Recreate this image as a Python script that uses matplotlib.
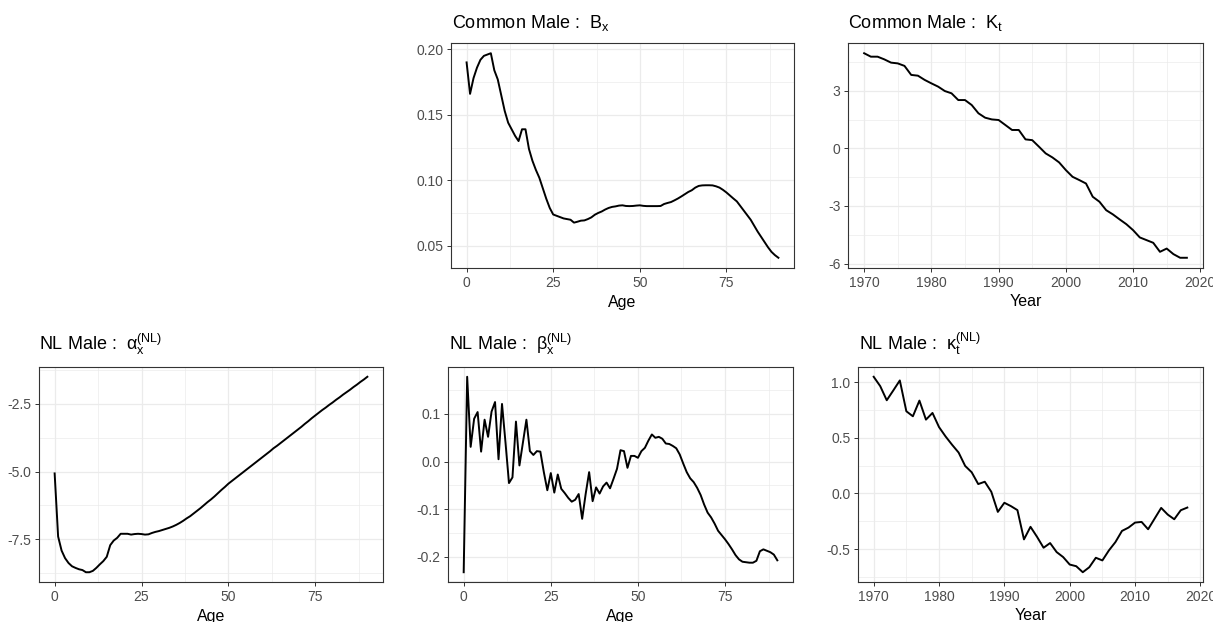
import matplotlib
matplotlib.use('Agg')
import matplotlib.pyplot as plt
from matplotlib.ticker import FixedLocator, FixedFormatter

plt.rcParams['font.family'] = ['Liberation Sans', 'DejaVu Sans']
plt.rcParams['mathtext.fontset'] = 'custom'
plt.rcParams['mathtext.rm'] = 'Liberation Sans'
plt.rcParams['mathtext.it'] = 'Liberation Sans:italic'
plt.rcParams['mathtext.bf'] = 'Liberation Sans:bold'
plt.rcParams['axes.unicode_minus'] = False

# ---------------- data ----------------
ages = list(range(0, 91))
years = list(range(1970, 2019))

bx = [0.190, 0.166, 0.178, 0.186, 0.192, 0.195, 0.196, 0.197, 0.184, 0.177,
      0.165, 0.153, 0.144, 0.139, 0.134, 0.130, 0.139, 0.139, 0.124, 0.115,
      0.108, 0.102, 0.094, 0.086, 0.079, 0.074, 0.073, 0.072, 0.071, 0.0705,
      0.0700, 0.0678, 0.0685, 0.0693, 0.0695, 0.0705, 0.0718, 0.0738, 0.0752, 0.0763,
      0.0778, 0.0790, 0.0798, 0.0802, 0.0808, 0.0810, 0.0805, 0.0804, 0.0805, 0.0808,
      0.0810, 0.0806, 0.0804, 0.0804, 0.0804, 0.0804, 0.0805, 0.0820, 0.0828, 0.0835,
      0.0848, 0.0862, 0.0878, 0.0895, 0.0912, 0.0925, 0.0945, 0.0958, 0.0962, 0.0963,
      0.0963, 0.0962, 0.0955, 0.0945, 0.0928, 0.0908, 0.0885, 0.0862, 0.0840, 0.0805,
      0.0770, 0.0735, 0.0700, 0.0655, 0.0610, 0.0570, 0.0530, 0.0490, 0.0455, 0.0430,
      0.0410]

kt = [4.96, 4.78, 4.78, 4.64, 4.47, 4.43, 4.30, 3.83, 3.79, 3.57,
      3.39, 3.22, 2.99, 2.87, 2.52, 2.52, 2.26, 1.83, 1.60, 1.51,
      1.48, 1.22, 0.96, 0.96, 0.47, 0.43, 0.09, -0.26, -0.47, -0.73,
      -1.13, -1.48, -1.65, -1.83, -2.52, -2.78, -3.22, -3.44, -3.70, -3.95,
      -4.26, -4.64, -4.78, -4.92, -5.39, -5.22, -5.51, -5.70, -5.70]

alpha = [-5.07, -7.40, -7.92, -8.20, -8.38, -8.50, -8.56, -8.61, -8.64, -8.72,
         -8.72, -8.67, -8.56, -8.43, -8.31, -8.15, -7.72, -7.55, -7.45, -7.30,
         -7.30, -7.30, -7.33, -7.31, -7.30, -7.31, -7.33, -7.32, -7.27, -7.23,
         -7.20, -7.16, -7.12, -7.08, -7.03, -6.97, -6.90, -6.82, -6.73, -6.65,
         -6.55, -6.45, -6.35, -6.24, -6.13, -6.03, -5.92, -5.80, -5.68, -5.57,
         -5.45, -5.35, -5.25, -5.15, -5.05, -4.95, -4.85, -4.75, -4.65, -4.55,
         -4.45, -4.35, -4.25, -4.14, -4.05, -3.95, -3.85, -3.75, -3.65, -3.55,
         -3.45, -3.35, -3.24, -3.14, -3.03, -2.93, -2.83, -2.73, -2.64, -2.54,
         -2.45, -2.35, -2.26, -2.16, -2.07, -1.98, -1.88, -1.79, -1.69, -1.60,
         -1.50]

beta = [-0.232, 0.178, 0.031, 0.090, 0.104, 0.021, 0.088, 0.052, 0.105, 0.125,
        0.005, 0.121, 0.040, -0.045, -0.033, 0.084, -0.008, 0.040, 0.088, 0.022,
        0.014, 0.022, 0.021, -0.022, -0.060, -0.024, -0.065, -0.027, -0.057, -0.066,
        -0.076, -0.084, -0.080, -0.068, -0.120, -0.068, -0.022, -0.083, -0.054, -0.067,
        -0.052, -0.044, -0.056, -0.036, -0.015, 0.024, 0.022, -0.013, 0.012, 0.012,
        0.008, 0.022, 0.029, 0.044, 0.057, 0.050, 0.052, 0.048, 0.038, 0.037,
        0.033, 0.028, 0.015, -0.004, -0.022, -0.035, -0.043, -0.055, -0.070, -0.090,
        -0.107, -0.117, -0.130, -0.145, -0.154, -0.163, -0.173, -0.184, -0.196, -0.205,
        -0.210, -0.211, -0.212, -0.212, -0.208, -0.188, -0.184, -0.187, -0.190, -0.195,
        -0.207]

kappa = [1.048, 0.964, 0.837, 0.925, 1.015, 0.738, 0.693, 0.834, 0.663, 0.723,
         0.596, 0.512, 0.437, 0.367, 0.247, 0.190, 0.084, 0.105, 0.015, -0.166,
         -0.084, -0.114, -0.150, -0.413, -0.300, -0.390, -0.488, -0.446, -0.527, -0.572,
         -0.639, -0.654, -0.708, -0.663, -0.578, -0.602, -0.512, -0.437, -0.337, -0.307,
         -0.262, -0.256, -0.322, -0.226, -0.130, -0.190, -0.232, -0.151, -0.127]

age_ticks = [0, 25, 50, 75]
age_labels = ['0', '25', '50', '75']
year_ticks = [1970, 1980, 1990, 2000, 2010, 2020]
year_labels = ['1970', '1980', '1990', '2000', '2010', '2020']

bx_ticks = [0.05, 0.10, 0.15, 0.20]
bx_labels = ['0.05', '0.10', '0.15', '0.20']
kt_ticks = [-6, -3, 0, 3]
kt_labels = ['-6', '-3', '0', '3']
alpha_ticks = [-7.5, -5.0, -2.5]
alpha_labels = ['-7.5', '-5.0', '-2.5']
beta_ticks = [-0.2, -0.1, 0.0, 0.1]
beta_labels = ['-0.2', '-0.1', '0.0', '0.1']
kappa_ticks = [-0.5, 0.0, 0.5, 1.0]
kappa_labels = ['-0.5', '0.0', '0.5', '1.0']

titles = [r'Common Male :  $\mathrm{B_x}$',
          r'Common Male :  $\mathrm{K_t}$',
          r'NL Male :  $\mathrm{\alpha}_\mathrm{x}^\mathrm{(NL)}$',
          r'NL Male :  $\mathrm{\beta}_\mathrm{x}^\mathrm{(NL)}$',
          r'NL Male :  $\mathrm{\kappa}_\mathrm{t}^\mathrm{(NL)}$']

# ---------------- layout ----------------
W, H = 1213, 622
fig = plt.figure(figsize=(W / 100, H / 100), dpi=100)
fig.patch.set_facecolor('white')

GRID = '#EBEBEB'
BORDER = '#333333'
TICKTXT = '#4D4D4D'


def expand(vals, frac=0.05):
    lo, hi = min(vals), max(vals)
    d = (hi - lo) * frac
    return lo - d, hi + d


def minor_between(ticks, lim):
    step = ticks[1] - ticks[0]
    cands = [ticks[0] - step / 2] + [t + step / 2 for t in ticks]
    return [c for c in cands if lim[0] <= c <= lim[1]]


def panel(box, x, y, xt, xl, yt, yl, xlabel, title, title_pos):
    l, t, r, b = box
    ax = fig.add_axes([l / W, 1 - b / H, (r - l) / W, (b - t) / H])
    ax.plot(x, y, color='black', lw=1.4, solid_joinstyle='round')
    xlim = expand(x)
    ylim = expand(y)
    ax.set_xlim(xlim)
    ax.set_ylim(ylim)
    ax.xaxis.set_major_locator(FixedLocator(xt))
    ax.xaxis.set_major_formatter(FixedFormatter(xl))
    ax.yaxis.set_major_locator(FixedLocator(yt))
    ax.yaxis.set_major_formatter(FixedFormatter(yl))
    ax.xaxis.set_minor_locator(FixedLocator(minor_between(xt, xlim)))
    ax.yaxis.set_minor_locator(FixedLocator(minor_between(yt, ylim)))
    ax.set_axisbelow(True)
    ax.grid(which='major', color=GRID, lw=0.9)
    ax.grid(which='minor', color=GRID, lw=0.5)
    ax.tick_params(which='major', length=3, width=0.7, color=BORDER,
                   labelsize=10, labelcolor=TICKTXT, pad=2.5)
    ax.tick_params(which='minor', length=0)
    for s in ax.spines.values():
        s.set_color(BORDER)
        s.set_linewidth(0.8)
    ax.set_xlabel(xlabel, fontsize=11.5, color='black')
    ax.xaxis.label.set_va('center')
    ax.xaxis.set_label_coords(0.5, -(34 / (b - t)))
    fig.text(title_pos[0] / W, 1 - title_pos[1] / H, title, fontsize=13,
             color='black', ha='left', va='baseline')
    return ax


panel((451, 43, 794, 268), ages, bx, age_ticks, age_labels, bx_ticks, bx_labels,
      'Age', titles[0], (452, 28))
panel((848, 43, 1203, 268), years, kt, year_ticks, year_labels, kt_ticks, kt_labels,
      'Year', titles[1], (848, 28))
panel((39, 367, 383, 582), ages, alpha, age_ticks, age_labels, alpha_ticks, alpha_labels,
      'Age', titles[2], (39, 350))
panel((448, 367, 793, 582), ages, beta, age_ticks, age_labels, beta_ticks, beta_labels,
      'Age', titles[3], (449, 350))
panel((858, 367, 1203, 582), years, kappa, year_ticks, year_labels, kappa_ticks, kappa_labels,
      'Year', titles[4], (859, 350))

fig.savefig('out.png', dpi=100, facecolor='white')
